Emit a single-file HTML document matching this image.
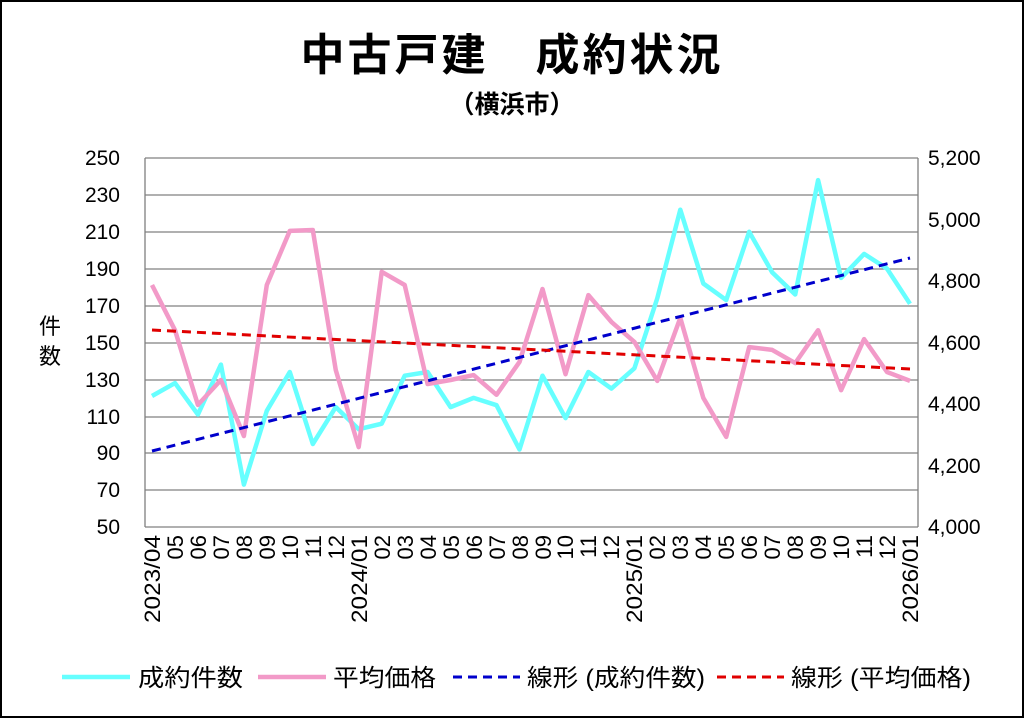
<!DOCTYPE html>
<html><head><meta charset="utf-8"><style>
html,body{margin:0;padding:0;background:#fff}
svg{display:block}
text{font-family:"Liberation Sans","Noto Sans CJK JP",sans-serif;fill:#000}
</style></head><body>
<svg width="1024" height="718" viewBox="0 0 1024 718" xmlns="http://www.w3.org/2000/svg">
<rect x="1" y="1" width="1022" height="716" fill="#fff" stroke="#000" stroke-width="2"/>
<text x="512" y="70" text-anchor="middle" font-size="44" font-weight="bold" letter-spacing="3">中古戸建　成約状況</text>
<text x="512" y="113" text-anchor="middle" font-size="25" font-weight="bold">（横浜市）</text>
<g stroke="#808080" stroke-width="1.3">
<line x1="145" y1="158" x2="918" y2="158"/><line x1="145" y1="195" x2="918" y2="195"/>
<line x1="145" y1="232" x2="918" y2="232"/><line x1="145" y1="269" x2="918" y2="269"/>
<line x1="145" y1="306" x2="918" y2="306"/><line x1="145" y1="343" x2="918" y2="343"/>
<line x1="145" y1="380" x2="918" y2="380"/><line x1="145" y1="417" x2="918" y2="417"/>
<line x1="145" y1="453" x2="918" y2="453"/><line x1="145" y1="490" x2="918" y2="490"/>
<line x1="145" y1="527" x2="918" y2="527"/>
<line x1="145" y1="158" x2="145" y2="527"/><line x1="918" y1="158" x2="918" y2="527"/>
</g>
<g font-size="21" text-anchor="end">
<text x="120" y="165">250</text><text x="120" y="202">230</text><text x="120" y="239">210</text>
<text x="120" y="276">190</text><text x="120" y="313">170</text><text x="120" y="350">150</text>
<text x="120" y="387">130</text><text x="120" y="424">110</text><text x="120" y="460">90</text>
<text x="120" y="497">70</text><text x="120" y="534">50</text>
</g>
<g font-size="21">
<text x="928" y="165">5,200</text><text x="928" y="227">5,000</text><text x="928" y="288">4,800</text>
<text x="928" y="350">4,600</text><text x="928" y="411">4,400</text><text x="928" y="473">4,200</text>
<text x="928" y="534">4,000</text>
</g>
<text x="50" y="334" font-size="22" text-anchor="middle">件</text>
<text x="50" y="364" font-size="22" text-anchor="middle">数</text>
<g font-size="22" text-anchor="end">
<text x="160" y="535" transform="rotate(-90 160 535)" textLength="88" lengthAdjust="spacingAndGlyphs">2023/04</text>
<text x="183" y="535" transform="rotate(-90 183 535)">05</text>
<text x="206" y="535" transform="rotate(-90 206 535)">06</text>
<text x="229" y="535" transform="rotate(-90 229 535)">07</text>
<text x="252" y="535" transform="rotate(-90 252 535)">08</text>
<text x="275" y="535" transform="rotate(-90 275 535)">09</text>
<text x="298" y="535" transform="rotate(-90 298 535)">10</text>
<text x="321" y="535" transform="rotate(-90 321 535)">11</text>
<text x="344" y="535" transform="rotate(-90 344 535)">12</text>
<text x="367" y="535" transform="rotate(-90 367 535)" textLength="88" lengthAdjust="spacingAndGlyphs">2024/01</text>
<text x="390" y="535" transform="rotate(-90 390 535)">02</text>
<text x="413" y="535" transform="rotate(-90 413 535)">03</text>
<text x="436" y="535" transform="rotate(-90 436 535)">04</text>
<text x="459" y="535" transform="rotate(-90 459 535)">05</text>
<text x="482" y="535" transform="rotate(-90 482 535)">06</text>
<text x="505" y="535" transform="rotate(-90 505 535)">07</text>
<text x="528" y="535" transform="rotate(-90 528 535)">08</text>
<text x="551" y="535" transform="rotate(-90 551 535)">09</text>
<text x="573" y="535" transform="rotate(-90 573 535)">10</text>
<text x="596" y="535" transform="rotate(-90 596 535)">11</text>
<text x="619" y="535" transform="rotate(-90 619 535)">12</text>
<text x="642" y="535" transform="rotate(-90 642 535)" textLength="88" lengthAdjust="spacingAndGlyphs">2025/01</text>
<text x="665" y="535" transform="rotate(-90 665 535)">02</text>
<text x="688" y="535" transform="rotate(-90 688 535)">03</text>
<text x="711" y="535" transform="rotate(-90 711 535)">04</text>
<text x="734" y="535" transform="rotate(-90 734 535)">05</text>
<text x="757" y="535" transform="rotate(-90 757 535)">06</text>
<text x="780" y="535" transform="rotate(-90 780 535)">07</text>
<text x="803" y="535" transform="rotate(-90 803 535)">08</text>
<text x="826" y="535" transform="rotate(-90 826 535)">09</text>
<text x="849" y="535" transform="rotate(-90 849 535)">10</text>
<text x="872" y="535" transform="rotate(-90 872 535)">11</text>
<text x="895" y="535" transform="rotate(-90 895 535)">12</text>
<text x="918" y="535" transform="rotate(-90 918 535)" textLength="88" lengthAdjust="spacingAndGlyphs">2026/01</text>
</g>
<polyline fill="none" stroke="#66ffff" stroke-width="4.5" stroke-linejoin="round" id="cy"/>
<polyline fill="none" stroke="#f29ac8" stroke-width="4.5" stroke-linejoin="round" id="pk"/>
<line x1="152" y1="451" x2="910" y2="258" stroke="#0000cc" stroke-width="3" stroke-dasharray="9,6"/>
<line x1="152" y1="330" x2="910" y2="369" stroke="#e00000" stroke-width="3" stroke-dasharray="9,6"/>
<g font-size="24">
<line x1="62" y1="677" x2="130" y2="677" stroke="#66ffff" stroke-width="4.5"/>
<text x="138" y="686" textLength="105" lengthAdjust="spacingAndGlyphs">成約件数</text>
<line x1="258" y1="677" x2="326" y2="677" stroke="#f29ac8" stroke-width="4.5"/>
<text x="333" y="686" textLength="103" lengthAdjust="spacingAndGlyphs">平均価格</text>
<line x1="453" y1="677" x2="520" y2="677" stroke="#0000cc" stroke-width="3" stroke-dasharray="9,6"/>
<text x="527" y="686" textLength="178" lengthAdjust="spacingAndGlyphs">線形 (成約件数)</text>
<line x1="717" y1="677" x2="784" y2="677" stroke="#e00000" stroke-width="3" stroke-dasharray="9,6"/>
<text x="791" y="686" textLength="180" lengthAdjust="spacingAndGlyphs">線形 (平均価格)</text>
</g>
<script>
var c=[121,128,111,138,73,113,134,95,115,103,106,132,134,115,120,116,92,132,109,134,125,136,174,222,182,173,210,188,176,238,185,198,190,171];
var p=[4787,4640,4397,4478,4296,4787,4963,4966,4510,4260,4830,4787,4465,4478,4494,4430,4537,4774,4497,4754,4667,4602,4475,4680,4420,4293,4585,4576,4533,4640,4445,4611,4504,4475];
function X(i){return 152+i*(758/33);}
var a=[],b=[];
for(var i=0;i<34;i++){var x=X(i);
a.push(x.toFixed(1)+","+(527-(c[i]-50)*369/200).toFixed(1));
b.push(x.toFixed(1)+","+(527-(p[i]-4000)*369/1200).toFixed(1));}
document.getElementById("cy").setAttribute("points",a.join(" "));
document.getElementById("pk").setAttribute("points",b.join(" "));
</script>
</svg>
</body></html>
